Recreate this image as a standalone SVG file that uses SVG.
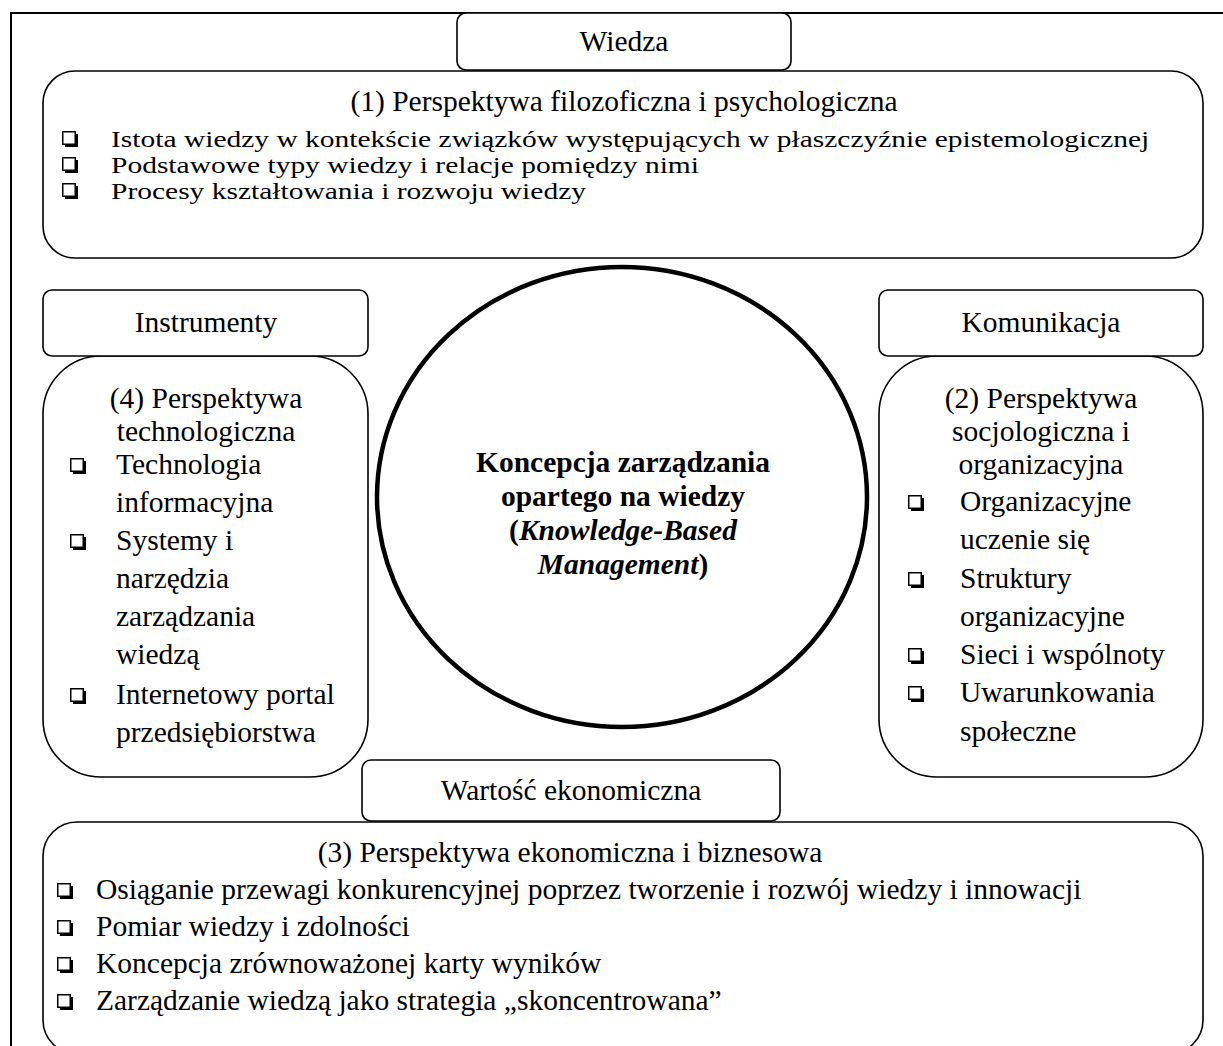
<svg xmlns="http://www.w3.org/2000/svg" xmlns:xlink="http://www.w3.org/1999/xlink" width="1223" height="1046" viewBox="0 0 1223 1046">
<style>
.bg{fill:#fff}
.frame{fill:none;stroke:#000;stroke-width:2}
.box{fill:#fff;stroke:#000;stroke-width:1.6}
.circ{fill:#fff;stroke:#000;stroke-width:4.5}
.t{font-family:"Liberation Serif","Times New Roman",serif;font-size:29.5px;fill:#000}
.c{text-anchor:middle}
.b{font-weight:bold}
</style>
<defs>
<g id="cb">
<rect x="3" y="3" width="13" height="13" fill="#000"/>
<rect x="0.75" y="0.75" width="12.5" height="12.5" fill="#fff" stroke="#000" stroke-width="1.5"/>
</g>
</defs>
<rect class="bg" x="0" y="0" width="1223" height="1046"/>
<g id="connectors">
<path class="frame" d="M11,1046 V13 H1223"/>
</g>
<g id="top-box">
<rect class="box" x="43" y="71" width="1160" height="187" rx="32" ry="32"/>
<text class="t c" x="624" y="111">(1) Perspektywa filozoficzna i psychologiczna</text>
<use xlink:href="#cb" x="62" y="131"/>
<text class="t" transform="translate(111,147) scale(1,0.8)">Istota wiedzy w kontekście związków występujących w płaszczyźnie epistemologicznej</text>
<use xlink:href="#cb" x="62" y="157"/>
<text class="t" transform="translate(111,173) scale(1,0.8)">Podstawowe typy wiedzy i relacje pomiędzy nimi</text>
<use xlink:href="#cb" x="62" y="183"/>
<text class="t" transform="translate(111,199) scale(1,0.8)">Procesy kształtowania i rozwoju wiedzy</text>
</g>
<g id="wiedza">
<rect class="box" x="457" y="13" width="334" height="57" rx="9" ry="9"/>
<text class="t c" x="624" y="51">Wiedza</text>
</g>
<g id="left-box">
<rect class="box" x="43" y="356" width="325" height="421" rx="58" ry="58"/>
<text class="t c" x="206" y="408">(4) Perspektywa</text>
<text class="t c" x="206" y="441">technologiczna</text>
<use xlink:href="#cb" x="70" y="458"/>
<text class="t" x="116" y="474">Technologia</text>
<text class="t" x="116" y="512">informacyjna</text>
<use xlink:href="#cb" x="70" y="534"/>
<text class="t" x="116" y="550">Systemy i</text>
<text class="t" x="116" y="588">narzędzia</text>
<text class="t" x="116" y="626">zarządzania</text>
<text class="t" x="116" y="664">wiedzą</text>
<use xlink:href="#cb" x="70" y="688"/>
<text class="t" x="116" y="704">Internetowy portal</text>
<text class="t" x="116" y="742">przedsiębiorstwa</text>
</g>
<g id="instrumenty">
<rect class="box" x="43" y="290" width="325" height="66" rx="9" ry="9"/>
<text class="t c" x="206" y="332">Instrumenty</text>
</g>
<g id="right-box">
<rect class="box" x="879" y="356" width="324" height="421" rx="58" ry="58"/>
<text class="t c" x="1041" y="408">(2) Perspektywa</text>
<text class="t c" x="1041" y="441">socjologiczna i</text>
<text class="t c" x="1041" y="474">organizacyjna</text>
<use xlink:href="#cb" x="908" y="495"/>
<text class="t" x="960" y="511">Organizacyjne</text>
<text class="t" x="960" y="549">uczenie się</text>
<use xlink:href="#cb" x="908" y="572"/>
<text class="t" x="960" y="588">Struktury</text>
<text class="t" x="960" y="626">organizacyjne</text>
<use xlink:href="#cb" x="908" y="648"/>
<text class="t" x="960" y="664">Sieci i wspólnoty</text>
<use xlink:href="#cb" x="908" y="686"/>
<text class="t" x="960" y="702">Uwarunkowania</text>
<text class="t" x="960" y="741">społeczne</text>
</g>
<g id="komunikacja">
<rect class="box" x="879" y="290" width="324" height="66" rx="9" ry="9"/>
<text class="t c" x="1041" y="332">Komunikacja</text>
</g>
<g id="center">
<ellipse class="circ" cx="622" cy="497" rx="245" ry="230"/>
<text class="t c b" x="623" y="472">Koncepcja zarządzania</text>
<text class="t c b" x="623" y="506">opartego na wiedzy</text>
<text class="t c b" x="623" y="540">(<tspan font-style="italic">Knowledge-Based</tspan></text>
<text class="t c b" x="623" y="574"><tspan font-style="italic">Management</tspan>)</text>
</g>
<g id="bottom-box">
<rect class="box" x="43" y="822" width="1160" height="232" rx="34" ry="34"/>
<text class="t c" x="570" y="862">(3) Perspektywa ekonomiczna i biznesowa</text>
<use xlink:href="#cb" x="57" y="883"/>
<text class="t" x="96" y="899">Osiąganie przewagi konkurencyjnej poprzez tworzenie i rozwój wiedzy i innowacji</text>
<use xlink:href="#cb" x="57" y="920"/>
<text class="t" x="96" y="936">Pomiar wiedzy i zdolności</text>
<use xlink:href="#cb" x="57" y="957"/>
<text class="t" x="96" y="973">Koncepcja zrównoważonej karty wyników</text>
<use xlink:href="#cb" x="57" y="994"/>
<text class="t" x="96" y="1010">Zarządzanie wiedzą jako strategia „skoncentrowana”</text>
</g>
<g id="wartosc">
<rect class="box" x="362" y="760" width="418" height="61" rx="9" ry="9"/>
<text class="t c" x="571" y="800">Wartość ekonomiczna</text>
</g>
</svg>
